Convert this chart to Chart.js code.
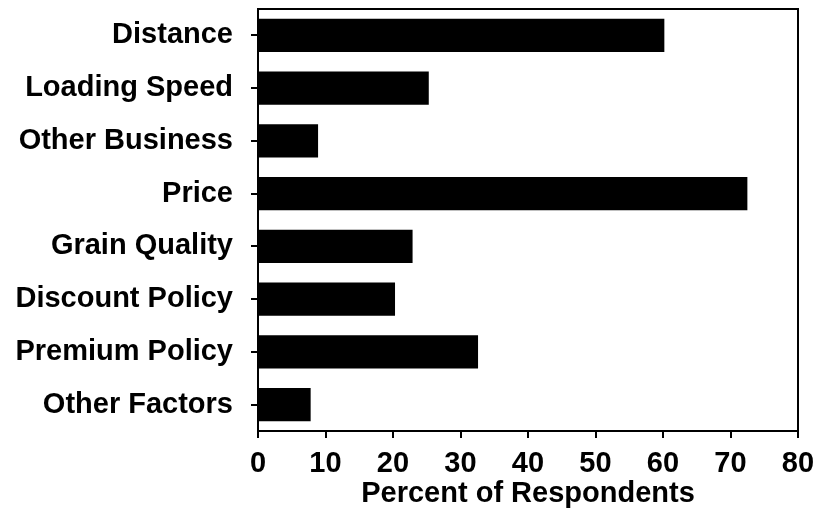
<!DOCTYPE html>
<html>
<head>
<meta charset="utf-8">
<script src="https://cdn.jsdelivr.net/npm/chart.js@4/dist/chart.umd.min.js"></script>
<style>
  html, body { margin: 0; padding: 0; background: #fff; }
  #wrap { width: 817px; height: 521px; }
</style>
</head>
<body>
<div id="wrap"><canvas id="c" width="817" height="521"></canvas></div>
<script>
const factors = ['Distance', 'Loading Speed', 'Other Business', 'Price',
                 'Grain Quality', 'Discount Policy', 'Premium Policy', 'Other Factors'];
const percents = [60.2, 25.3, 8.9, 72.5, 22.9, 20.3, 32.6, 7.8];
const xTicks = [0, 10, 20, 30, 40, 50, 60, 70, 80];

const font = { family: '"Liberation Sans", Arial, sans-serif', size: 29, weight: 'bold' };

// box round the plot area (top and right sides)
const frame = {
  id: 'frame',
  afterDraw(chart) {
    const { ctx, chartArea: a } = chart;
    ctx.save();
    ctx.strokeStyle = '#000';
    ctx.lineWidth = 2;
    ctx.strokeRect(a.left, a.top, a.right - a.left, a.bottom - a.top);
    ctx.restore();
  }
};

new Chart(document.getElementById('c').getContext('2d'), {
  type: 'bar',
  data: {
    labels: factors,
    datasets: [{
      data: percents,
      backgroundColor: '#000',
      borderWidth: 0,
      barPercentage: 0.63,
      categoryPercentage: 1,
    }]
  },
  options: {
    indexAxis: 'y',
    responsive: false,
    animation: false,
    layout: { padding: { top: 9, right: 19, left: 0, bottom: 0 } },
    plugins: { legend: { display: false }, tooltip: { enabled: false } },
    scales: {
      x: {
        min: 0, max: 80,
        afterBuildTicks: s => { s.ticks = xTicks.map(v => ({ value: v })); },
        afterFit: s => { s.height = 90; s.paddingLeft = 0; s.paddingRight = 0; },
        border: { display: true, color: '#000', width: 2 },
        grid: { display: true, drawOnChartArea: false, drawTicks: true, tickLength: 7, color: '#000', lineWidth: 2 },
        ticks: { color: '#000', font, padding: 9, maxRotation: 0 },
        title: { display: true, text: 'Percent of Respondents', color: '#000', font, padding: { top: 0, bottom: 10 } }
      },
      y: {
        afterFit: s => { s.width = 258; s.paddingTop = 0; s.paddingBottom = 0; },
        border: { display: true, color: '#000', width: 2 },
        grid: { display: true, offset: false, drawOnChartArea: false, drawTicks: true, tickLength: 7, color: '#000', lineWidth: 2 },
        ticks: { color: '#000', font, padding: 18 }
      }
    }
  },
  plugins: [frame]
});
</script>
</body>
</html>
